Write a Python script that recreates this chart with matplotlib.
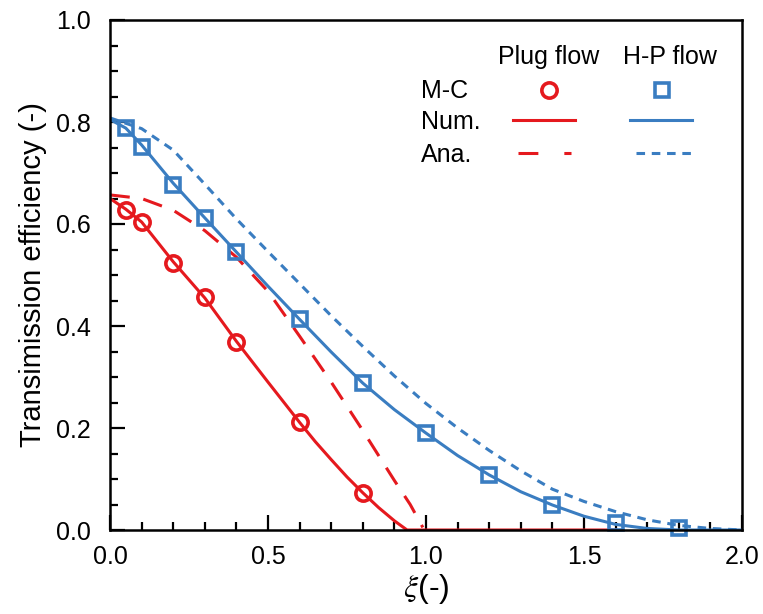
import matplotlib
matplotlib.use("Agg")
import matplotlib.pyplot as plt
from matplotlib.lines import Line2D
from matplotlib.ticker import MultipleLocator

plt.rcParams["font.family"] = ["Liberation Sans", "DejaVu Sans"]
plt.rcParams["mathtext.fontset"] = "stix"

RED = "#E5191E"
BLUE = "#3A7DC1"

# ── data ─────────────────────────────────────────────────────────────────────
# Monte-Carlo points
mc_plug_x = [0.05, 0.1, 0.2, 0.3, 0.4, 0.6, 0.8]
mc_plug_y = [0.627, 0.604, 0.524, 0.457, 0.369, 0.211, 0.073]
mc_hp_x = [0.05, 0.1, 0.2, 0.3, 0.4, 0.6, 0.8, 1.0, 1.2, 1.4, 1.6, 1.8]
mc_hp_y = [0.788, 0.751, 0.676, 0.612, 0.545, 0.413, 0.288, 0.19, 0.108, 0.049, 0.014, 0.004]

# numerical curves
num_plug_x = [0.0, 0.05, 0.1, 0.2, 0.3, 0.4, 0.5, 0.6, 0.65, 0.7, 0.75, 0.8, 0.85,
              0.9, 0.94, 1.0, 1.6]
num_plug_y = [0.65, 0.629, 0.604, 0.526, 0.455, 0.37, 0.29, 0.211, 0.173, 0.138, 0.104,
              0.073, 0.044, 0.018, 0.0, 0.0, 0.0]
num_hp_x = [0.0, 0.05, 0.1, 0.2, 0.3, 0.4, 0.5, 0.6, 0.7, 0.8, 0.9, 1.0, 1.1, 1.2,
            1.3, 1.4, 1.5, 1.6, 1.7, 1.8, 2.0]
num_hp_y = [0.805, 0.788, 0.755, 0.68, 0.612, 0.545, 0.478, 0.413, 0.349, 0.288, 0.236,
            0.19, 0.146, 0.108, 0.075, 0.049, 0.027, 0.011, 0.003, 0.0, 0.0]

# analytical curves
ana_plug_x = [0.0, 0.1, 0.2, 0.3, 0.4, 0.5, 0.6, 0.7, 0.8, 0.9, 0.95, 0.99]
ana_plug_y = [0.657, 0.65, 0.627, 0.587, 0.535, 0.468, 0.38, 0.29, 0.195, 0.097, 0.05, 0.005]
ana_hp_x = [0.0, 0.1, 0.2, 0.3, 0.4, 0.5, 0.6, 0.7, 0.8, 0.9, 1.0, 1.1, 1.2, 1.3,
            1.4, 1.5, 1.6, 1.7, 1.8, 1.9, 2.0]
ana_hp_y = [0.808, 0.787, 0.745, 0.678, 0.61, 0.546, 0.483, 0.42, 0.36, 0.302, 0.248,
            0.2, 0.156, 0.116, 0.08, 0.056, 0.036, 0.02, 0.009, 0.003, 0.0]

# ── figure ───────────────────────────────────────────────────────────────────
fig = plt.figure(figsize=(7.63, 6.14), dpi=100)
ax = fig.add_axes([110 / 763, 84 / 614, 632 / 763, 510 / 614])

lw = 2.2
ax.plot(ana_plug_x, ana_plug_y, color=RED, lw=lw, dashes=(6.5, 4.5))
ax.plot(num_plug_x, num_plug_y, color=RED, lw=lw)
ax.plot(mc_plug_x, mc_plug_y, ls="none", marker="o", ms=11, mfc="none",
        mec=RED, mew=2.6, clip_on=False)

ax.plot(ana_hp_x, ana_hp_y, color=BLUE, lw=lw, dashes=(2.8, 2.2))
ax.plot(num_hp_x, num_hp_y, color=BLUE, lw=lw)
ax.plot(mc_hp_x, mc_hp_y, ls="none", marker="s", ms=10.5, mfc="none",
        mec=BLUE, mew=2.6, clip_on=False)

ax.set_xlim(0, 2.0)
ax.set_ylim(0, 1.0)
ax.xaxis.set_major_locator(MultipleLocator(0.5))
ax.xaxis.set_minor_locator(MultipleLocator(0.1))
ax.yaxis.set_major_locator(MultipleLocator(0.2))
ax.yaxis.set_minor_locator(MultipleLocator(0.05))
ax.xaxis.set_major_formatter(plt.FormatStrFormatter("%.1f"))
ax.yaxis.set_major_formatter(plt.FormatStrFormatter("%.1f"))
ax.tick_params(which="both", direction="in", width=1.6, labelsize=18,
               top=False, right=False)
ax.tick_params(which="major", length=11, pad=11)
ax.tick_params(axis="y", which="major", pad=14)
ax.tick_params(which="minor", length=6)
for sp in ax.spines.values():
    sp.set_linewidth(1.8)

ax.set_xlabel(r"$\xi$(-)", fontsize=23, labelpad=2)
ax.set_ylabel("Transimission efficiency (-)", fontsize=21, labelpad=6)

# ── table-style legend ───────────────────────────────────────────────────────
def fx(px):
    return (px - 110) / 632


def fy(py):
    return (530 - py) / 510


tkw = dict(transform=ax.transAxes, fontsize=18, va="center")
ax.text(fx(549), fy(57), "Plug flow", ha="center", **tkw)
ax.text(fx(670), fy(57), "H-P flow", ha="center", **tkw)
ax.text(fx(421), fy(91), "M-C", ha="left", **tkw)
ax.text(fx(421), fy(122), "Num.", ha="left", **tkw)
ax.text(fx(421), fy(155), "Ana.", ha="left", **tkw)

ax.add_line(Line2D([fx(549)], [fy(90)], transform=ax.transAxes, marker="o",
                   ms=11, mfc="none", mec=RED, mew=2.6, ls="none"))
ax.add_line(Line2D([fx(662)], [fy(90)], transform=ax.transAxes, marker="s",
                   ms=10.5, mfc="none", mec=BLUE, mew=2.6, ls="none"))
ax.add_line(Line2D([fx(513), fx(575)], [fy(120), fy(120)], transform=ax.transAxes,
                   color=RED, lw=lw))
ax.add_line(Line2D([fx(630), fx(692)], [fy(120), fy(120)], transform=ax.transAxes,
                   color=BLUE, lw=lw))
ax.add_line(Line2D([fx(518), fx(571)], [fy(153), fy(153)], transform=ax.transAxes,
                   color=RED, lw=lw, dashes=(6.5, 8.5)))
ax.add_line(Line2D([fx(636), fx(692)], [fy(153), fy(153)], transform=ax.transAxes,
                   color=BLUE, lw=lw, dashes=(2.8, 2.2)))

fig.savefig("out.png", dpi=100)
